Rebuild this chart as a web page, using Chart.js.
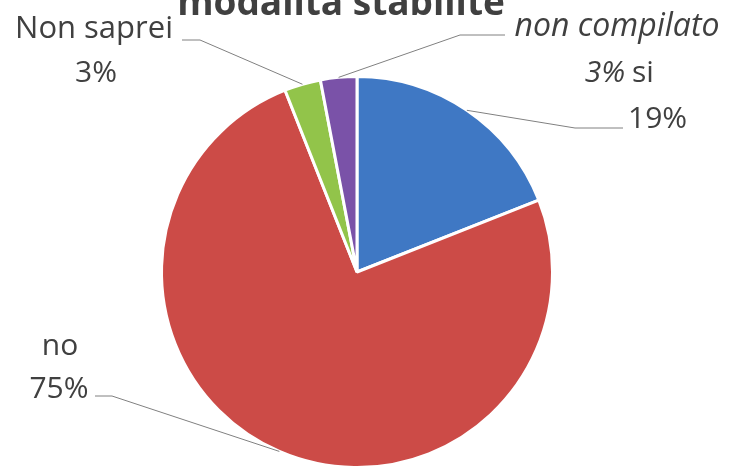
<!DOCTYPE html>
<html lang="it">
<head>
    <meta charset="UTF-8">
    <title>modalità stabilite</title>
    <script src="https://cdn.jsdelivr.net/npm/chart.js"></script>
    <style>
        html, body { margin: 0; padding: 0; background: #fff; }
        #box { width: 731px; height: 471px; position: relative; }
    </style>
</head>
<body>
<div id="box"><canvas id="grafico"></canvas></div>
<script>
    // dati
    const titolo = 'modalità stabilite';
    const categorie = ['si', 'no', 'Non saprei', 'non compilato'];
    const percentuali = [19, 75, 3, 3];
    const etichettePct = ['19%', '75%', '3%', '3%'];
    const colori = ['#3f78c4', '#cc4b47', '#92c44a', '#7a52a8'];

    // posizione delle etichette e del gomito delle linee guida
    // [x, y, allineamento, corsivo, dimensione]
    const posEtichette = [
        { nome: [632, 82, 'left', false, 30],   pct: [628, 128, 'left', false, 30],  linea: [[575, 128], [623, 128]] },
        { nome: [60, 355, 'center', false, 30], pct: [59, 398, 'center', false, 30], linea: [[112, 396], [95, 396]] },
        { nome: [94, 38, 'center', false, 31],  pct: [96, 82, 'center', false, 30],  linea: [[200, 40], [182, 40]] },
        { nome: [617, 36, 'center', true, 32],  pct: [625, 82, 'right', true, 30],   linea: [[460, 35], [505, 35]] }
    ];

    const etichettePlugin = {
        id: 'etichette',
        afterDraw(chart) {
            const ctx = chart.ctx;
            const arcs = chart.getDatasetMeta(0).data;
            ctx.save();
            // linee guida
            ctx.strokeStyle = '#808080';
            ctx.lineWidth = 1;
            arcs.forEach((arc, i) => {
                const p = arc.getProps(['x', 'y', 'startAngle', 'endAngle', 'outerRadius'], true);
                const mid = (p.startAngle + p.endAngle) / 2;
                const sx = p.x + Math.cos(mid) * p.outerRadius;
                const sy = p.y + Math.sin(mid) * p.outerRadius;
                const l = posEtichette[i].linea;
                ctx.beginPath();
                ctx.moveTo(sx, sy);
                ctx.lineTo(l[0][0], l[0][1]);
                ctx.lineTo(l[1][0], l[1][1]);
                ctx.stroke();
            });
            // testi
            ctx.fillStyle = '#404040';
            ctx.textBaseline = 'alphabetic';
            const scrivi = (testo, pos) => {
                ctx.font = (pos[3] ? 'italic ' : '') + pos[4] + 'px "Open Sans", sans-serif';
                ctx.textAlign = pos[2];
                ctx.fillText(testo, pos[0], pos[1]);
            };
            categorie.forEach((c, i) => {
                scrivi(c, posEtichette[i].nome);
                scrivi(etichettePct[i], posEtichette[i].pct);
            });
            // titolo (tagliato in alto come nell'originale)
            ctx.font = 'bold 37px "Open Sans", sans-serif';
            ctx.textAlign = 'center';
            ctx.fillText(titolo, 341, 15);
            ctx.restore();
        }
    };

    new Chart(document.getElementById('grafico'), {
        type: 'pie',
        data: {
            labels: categorie,
            datasets: [{
                data: percentuali,
                backgroundColor: colori,
                borderColor: '#ffffff',
                borderWidth: 3,
                hoverOffset: 0
            }]
        },
        options: {
            responsive: true,
            maintainAspectRatio: false,
            animation: false,
            layout: { padding: { left: 160, right: 177, top: 75, bottom: 2 } },
            plugins: {
                legend: { display: false },
                tooltip: { enabled: false },
                title: { display: false }
            }
        },
        plugins: [etichettePlugin]
    });
</script>
</body>
</html>
